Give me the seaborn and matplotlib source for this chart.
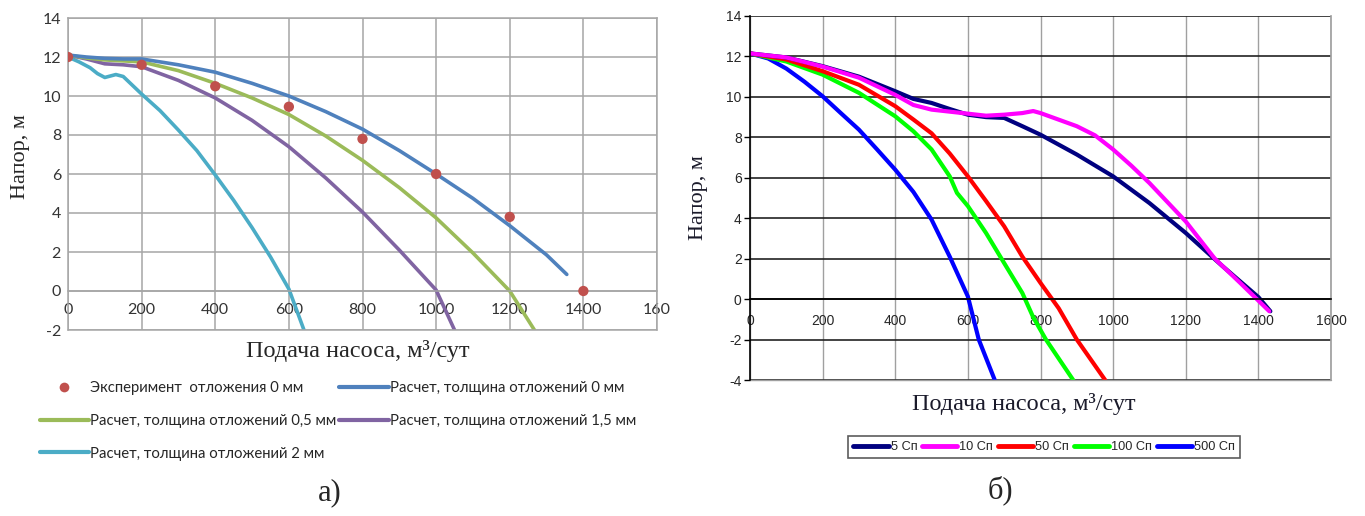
import numpy as np
import pandas as pd
import matplotlib
matplotlib.use("Agg")
import matplotlib.pyplot as plt
import seaborn as sns
from matplotlib.lines import Line2D

sns.set_theme(style="white")
plt.rcParams['font.family'] = ['Liberation Sans', 'DejaVu Sans']
plt.rcParams['axes.unicode_minus'] = False

# ---------------- data: chart a) ----------------
exp_x = [0, 200, 400, 600, 800, 1000, 1200, 1400]
exp_y = [12.0, 11.6, 10.5, 9.45, 7.8, 6.0, 3.8, 0.0]

c0_x = [0, 50, 100, 150, 200, 300, 400, 500, 600, 700, 800, 900, 1000, 1100, 1200, 1300, 1355]
c0_y = [12.1, 12.0, 11.93, 11.9, 11.9, 11.6, 11.22, 10.65, 10.0, 9.2, 8.3, 7.2, 6.0, 4.75, 3.35, 1.85, 0.85]

c05_x = [0, 50, 100, 150, 200, 300, 400, 500, 600, 700, 800, 900, 1000, 1100, 1200, 1267]
c05_y = [12.1, 11.95, 11.85, 11.8, 11.75, 11.3, 10.65, 9.9, 9.05, 7.95, 6.7, 5.3, 3.75, 1.95, 0.0, -2.0]

c15_x = [0, 50, 100, 150, 200, 300, 400, 500, 600, 700, 800, 900, 1000, 1050]
c15_y = [12.1, 11.9, 11.65, 11.6, 11.5, 10.8, 9.9, 8.75, 7.4, 5.8, 4.05, 2.1, 0.05, -2.0]

c2_x = [0, 30, 60, 80, 100, 130, 150, 200, 250, 300, 350, 400, 450, 500, 550, 600, 641]
c2_y = [12.0, 11.75, 11.45, 11.15, 10.95, 11.1, 11.0, 10.1, 9.25, 8.25, 7.2, 5.95, 4.65, 3.25, 1.75, 0.1, -2.0]

# ---------------- data: chart б) ----------------
v5_x = [0, 100, 200, 300, 400, 450, 500, 550, 600, 650, 700, 750, 800, 900, 1000, 1100, 1200, 1300, 1400, 1433]
v5_y = [12.15, 11.95, 11.52, 11.0, 10.28, 9.9, 9.7, 9.4, 9.12, 9.0, 8.96, 8.55, 8.13, 7.15, 6.07, 4.75, 3.27, 1.65, 0.1, -0.6]

v10_x = [0, 100, 200, 300, 400, 450, 500, 600, 650, 700, 750, 780, 800, 900, 950, 1000, 1050, 1100, 1200, 1280, 1350, 1430]
v10_y = [12.15, 11.95, 11.5, 10.95, 10.1, 9.6, 9.37, 9.17, 9.07, 9.12, 9.2, 9.3, 9.2, 8.55, 8.1, 7.4, 6.6, 5.74, 3.84, 2.0, 0.8, -0.6]

v50_x = [0, 100, 200, 300, 400, 450, 500, 550, 600, 650, 700, 750, 800, 850, 900, 978]
v50_y = [12.15, 11.85, 11.27, 10.6, 9.54, 8.88, 8.2, 7.2, 6.07, 4.85, 3.6, 2.1, 0.8, -0.45, -2.0, -4.0]

v100_x = [0, 100, 200, 300, 400, 450, 500, 550, 570, 600, 650, 700, 750, 780, 815, 890]
v100_y = [12.15, 11.75, 11.1, 10.2, 9.04, 8.3, 7.4, 6.07, 5.25, 4.6, 3.27, 1.78, 0.3, -0.9, -2.0, -4.0]

v500_x = [0, 50, 100, 150, 200, 250, 300, 350, 400, 450, 500, 550, 600, 630, 674]
v500_y = [12.15, 11.9, 11.4, 10.75, 10.03, 9.2, 8.38, 7.4, 6.4, 5.3, 3.93, 2.1, 0.13, -2.0, -4.0]

x_ticks_a = [0, 200, 400, 600, 800, 1000, 1200, 1400, 1600]
x_ticklabels_a = ['0', '200', '400', '600', '800', '1000', '1200', '1400', '160']
y_ticks_a = [-2, 0, 2, 4, 6, 8, 10, 12, 14]
x_ticks_b = [0, 200, 400, 600, 800, 1000, 1200, 1400, 1600]
y_ticks_b = [-4, -2, 0, 2, 4, 6, 8, 10, 12, 14]

# ---------------- figure ----------------
fig = plt.figure(figsize=(13.65, 5.16), dpi=100)
W, H = 1365, 516
axA = fig.add_axes([68 / W, 1 - 330 / H, (657 - 68) / W, (330 - 18) / H])
axB = fig.add_axes([750 / W, 1 - 380 / H, (1331 - 750) / W, (380 - 16) / H])

calib = ['Lato', 'DejaVu Sans']

# chart a
colA = {'exp': '#C0504D', 'c0': '#4F81BD', 'c05': '#9BBB59', 'c15': '#8064A2', 'c2': '#4BACC6'}
lw = 2.6
sns.lineplot(x=c2_x, y=c2_y, ax=axA, color=colA['c2'], lw=lw, sort=False)
sns.lineplot(x=c15_x, y=c15_y, ax=axA, color=colA['c15'], lw=lw, sort=False)
sns.lineplot(x=c05_x, y=c05_y, ax=axA, color=colA['c05'], lw=lw, sort=False)
sns.lineplot(x=c0_x, y=c0_y, ax=axA, color=colA['c0'], lw=lw, sort=False)
sns.scatterplot(x=exp_x, y=exp_y, ax=axA, color=colA['exp'], s=55, edgecolor='none', zorder=5)

axA.set_xlim(0, 1600)
axA.set_ylim(-2, 14)
axA.set_xticks(x_ticks_a)
axA.set_xticklabels(x_ticklabels_a)
axA.set_yticks(y_ticks_a)
axA.grid(True, color='#A6A6A6', lw=1.1)
axA.set_axisbelow(True)
for s in ['top', 'right', 'left']:
    axA.spines[s].set_color('#A6A6A6')
    axA.spines[s].set_linewidth(1.1)
axA.spines['bottom'].set_position(('data', 0))
axA.spines['bottom'].set_color('#A6A6A6')
axA.spines['bottom'].set_linewidth(1.1)
axA.axhline(-2, color='#A6A6A6', lw=1.1, clip_on=False)
axA.tick_params(axis='both', length=0, labelsize=11.5, colors='#333333', pad=5)
axA.tick_params(axis='x', pad=9)
for t in axA.get_xticklabels() + axA.get_yticklabels():
    t.set_family(calib)
axA.set_xlabel('')
axA.set_ylabel('')

# chart b
colB = {'5': '#000080', '10': '#FF00FF', '50': '#FF0000', '100': '#00FF00', '500': '#0000FF'}
lwb = 3.0
sns.lineplot(x=v500_x, y=v500_y, ax=axB, color=colB['500'], lw=lwb, sort=False)
sns.lineplot(x=v100_x, y=v100_y, ax=axB, color=colB['100'], lw=lwb, sort=False)
sns.lineplot(x=v50_x, y=v50_y, ax=axB, color=colB['50'], lw=lwb, sort=False)
sns.lineplot(x=v5_x, y=v5_y, ax=axB, color=colB['5'], lw=lwb, sort=False)
sns.lineplot(x=v10_x, y=v10_y, ax=axB, color=colB['10'], lw=lwb, sort=False)

axB.set_xlim(0, 1600)
axB.set_ylim(-4, 14)
axB.set_xticks(x_ticks_b)
axB.set_yticks(y_ticks_b)
axB.xaxis.grid(True, color='#A0A0A0', lw=1.0)
axB.yaxis.grid(True, color='#222222', lw=1.2)
axB.set_axisbelow(True)
axB.spines['top'].set_visible(False)
axB.spines['right'].set_color('#A0A0A0')
axB.spines['left'].set_color('#000000')
axB.spines['left'].set_linewidth(1.2)
axB.spines['bottom'].set_position(('data', 0))
axB.spines['bottom'].set_color('#000000')
axB.spines['bottom'].set_linewidth(1.2)
axB.axhline(-4, color='#A0A0A0', lw=1.0, clip_on=False)
axB.tick_params(axis='y', length=4, width=1, direction='out', left=True, color='#000000',
                labelsize=10, pad=2)
axB.tick_params(axis='x', length=0, labelsize=10, pad=11)
axB.set_xlabel('')
axB.set_ylabel('')

# axis labels
serif = ['Liberation Serif', 'DejaVu Serif']
fig.text(358 / W, 1 - 351 / H, 'Подача насоса, м³/сут', ha='center', va='center',
         fontsize=17.5, family=serif)
fig.text(20 / W, 1 - 157 / H, 'Напор, м', ha='center', va='center', rotation=90,
         fontsize=16, family=serif)
fig.text(1024 / W, 1 - 404 / H, 'Подача насоса, м³/сут', ha='center', va='center',
         fontsize=17.5, family=serif, color='#1a1a2a')
fig.text(699 / W, 1 - 198 / H, 'Напор, м', ha='center', va='center', rotation=90,
         fontsize=16, family=serif, color='#1a1a2a')

fig.text(330 / W, 1 - 493 / H, 'а)', ha='center', va='center', fontsize=22, family=serif)
fig.text(1000 / W, 1 - 490 / H, 'б)', ha='center', va='center', fontsize=22, family=serif)

# legend a
hA = [
    Line2D([], [], ls='none', marker='o', ms=7, color=colA['exp'], mec='none'),
    Line2D([], [], color=colA['c05'], lw=3),
    Line2D([], [], color=colA['c2'], lw=3),
    Line2D([], [], color=colA['c0'], lw=3),
    Line2D([], [], color=colA['c15'], lw=3),
]
lA = ['Эксперимент  отложения 0 мм',
      'Расчет, толщина отложений 0,5 мм',
      'Расчет, толщина отложений 2 мм',
      'Расчет, толщина отложений 0 мм',
      'Расчет, толщина отложений 1,5 мм']
fig.legend(hA, lA, ncol=2, loc='center', bbox_to_anchor=(338 / W, 1 - 421 / H),
           frameon=False, handlelength=3.3, handletextpad=0.1,
           columnspacing=0.2, labelspacing=1.25, prop={'family': calib, 'size': 10.7})

# legend b
hB = [Line2D([], [], color=colB[k], lw=3.5) for k in ['5', '10', '50', '100', '500']]
lB = ['5 Сп', '10 Сп', '50 Сп', '100 Сп', '500 Сп']
legB = fig.legend(hB, lB, ncol=5, loc='center', bbox_to_anchor=(1044 / W, 1 - 447 / H),
                  frameon=True, fontsize=9.2, handlelength=2.8, handletextpad=0.15,
                  columnspacing=0.35, borderpad=0.4, fancybox=False)
legB.get_frame().set_edgecolor('#333333')
legB.get_frame().set_linewidth(1.2)

fig.savefig('out.png', dpi=100)
